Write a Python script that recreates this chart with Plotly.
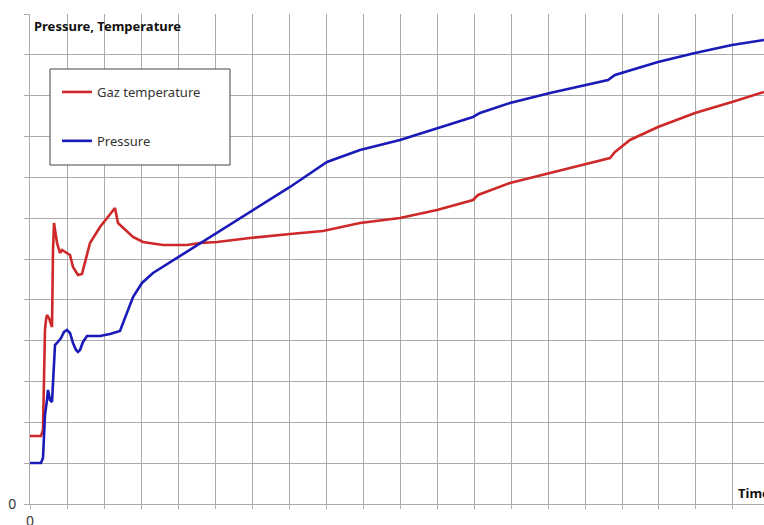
import plotly.graph_objects as go

# Time axis is in grid units (one vertical grid step = 1)
temp_time = [0, 0.297, 0.351, 0.378, 0.405, 0.432, 0.459, 0.514, 0.541, 0.595, 0.622, 0.649,
             0.730, 0.811, 0.865, 1.0, 1.081, 1.162, 1.297, 1.405, 1.486, 1.622, 1.892, 2.108,
             2.297, 2.378, 2.514, 2.784, 3.054, 3.595, 4.243, 4.595, 5.054, 5.946, 7.027, 7.919,
             8.919, 10.0, 11.0, 11.973, 12.108, 12.973, 14.054, 15.0, 15.676, 15.811, 16.216,
             16.973, 17.973, 18.973, 19.838]
temp_value = [1.665, 1.665, 1.812, 3.037, 4.262, 4.506, 4.629, 4.555, 4.458, 4.335, 6.221, 6.882,
              6.392, 6.147, 6.221, 6.147, 6.098, 5.805, 5.609, 5.633, 5.903, 6.392, 6.784, 7.029,
              7.250, 6.882, 6.760, 6.539, 6.417, 6.343, 6.343, 6.392, 6.417, 6.515, 6.613, 6.686,
              6.882, 7.005, 7.201, 7.445, 7.568, 7.862, 8.107, 8.327, 8.474, 8.621, 8.915,
              9.233, 9.576, 9.846, 10.091]

pres_time = [0, 0.297, 0.351, 0.378, 0.405, 0.459, 0.486, 0.514, 0.541, 0.595, 0.622, 0.649,
             0.676, 0.730, 0.838, 0.919, 1.0, 1.081, 1.162, 1.243, 1.297, 1.351, 1.432, 1.541,
             1.892, 2.162, 2.351, 2.432, 2.784, 3.027, 3.324, 3.973, 4.595, 5.946, 7.027, 8.027,
             8.919, 10.0, 11.0, 11.973, 12.162, 12.973, 14.054, 15.0, 15.622, 15.811, 16.973,
             17.973, 18.973, 19.838]
pres_value = [1.004, 1.004, 1.127, 1.567, 2.180, 2.547, 2.792, 2.670, 2.547, 2.498, 3.037, 3.649,
              3.894, 3.943, 4.066, 4.213, 4.262, 4.188, 3.943, 3.772, 3.723, 3.772, 3.968, 4.115,
              4.115, 4.164, 4.213, 4.237, 5.070, 5.413, 5.658, 6.025, 6.392, 7.152, 7.764, 8.376,
              8.670, 8.915, 9.209, 9.478, 9.576, 9.821, 10.066, 10.262, 10.384, 10.507, 10.825,
              11.046, 11.242, 11.364]

series_names = ["Gaz temperature", "Pressure"]
series_colors = ["#CF2828", "#1A1AB8"]
x_ticks = list(range(0, 20))
y_ticks = list(range(0, 13))

W, H = 764, 525
L, R, T, B = 30, 0, 14, 21
PW, PH = W - L - R, H - T - B


def px_x(p):
    return (p - L) / PW


def px_y(p):
    return 1 - (p - T) / PH


grid = "#ABABAB"
fig = go.Figure()
fig.add_trace(go.Scatter(x=temp_time, y=temp_value, mode="lines", name=series_names[0],
                         legendgroup="a", line=dict(color=series_colors[0], width=2.6)))
fig.add_trace(go.Scatter(x=pres_time, y=pres_value, mode="lines", name=series_names[1],
                         legendgroup="b", line=dict(color=series_colors[1], width=2.6)))

fig.update_layout(
    width=W, height=H,
    margin=dict(l=L, r=R, t=T, b=B, autoexpand=False),
    paper_bgcolor="white", plot_bgcolor="white",
    font=dict(family="Noto Sans, Open Sans, sans-serif", size=13, color="#222"),
    showlegend=True,
    legend=dict(x=px_x(57), y=px_y(77), xanchor="left", yanchor="top",
                borderwidth=0, bgcolor="rgba(0,0,0,0)",
                traceorder="grouped", tracegroupgap=29,
                font=dict(size=13, color="#333")),
    xaxis=dict(range=[0, 19.838], tickvals=x_ticks, automargin=False,
               ticktext=["0"] + [""] * (len(x_ticks) - 1),
               showgrid=True, gridcolor=grid, gridwidth=1,
               showline=True, linecolor=grid, linewidth=1,
               ticks="outside", ticklen=4, tickcolor=grid, zeroline=False,
               tickfont=dict(size=14, color="#333")),
    yaxis=dict(range=[0, 12], tickvals=y_ticks, automargin=False,
               ticktext=["0"] + [""] * (len(y_ticks) - 1),
               showgrid=True, gridcolor=grid, gridwidth=1,
               showline=True, linecolor=grid, linewidth=1,
               ticks="outside", ticklen=5, tickcolor=grid, zeroline=False,
               ticklabelstandoff=5,
               tickfont=dict(size=14, color="#333")),
    shapes=[
        dict(type="rect", xref="paper", yref="paper",
             x0=px_x(50), x1=px_x(230), y0=px_y(165), y1=px_y(69),
             line=dict(color="#444", width=1), fillcolor="white", layer="above"),
    ],
    annotations=[
        dict(text="<b>Pressure, Temperature</b>", xref="paper", yref="paper",
             x=0, y=px_y(26), xanchor="left", yanchor="middle", xshift=2,
             showarrow=False, font=dict(size=13, color="#111")),
        dict(text="<b>Time</b>", xref="paper", yref="paper",
             x=px_x(736), y=px_y(493), xanchor="left", yanchor="middle",
             showarrow=False, font=dict(size=13, color="#111")),
    ],
)

fig.write_html(
    "out.html",
    config={"displayModeBar": False},
    post_script="document.body.style.margin='0';document.body.style.overflow='hidden';",
)
